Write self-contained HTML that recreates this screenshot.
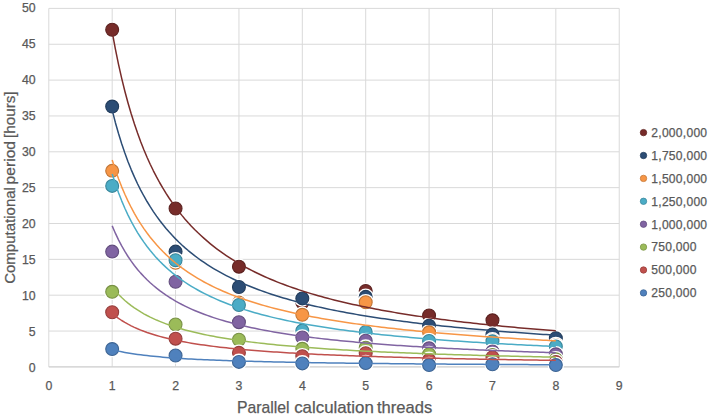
<!DOCTYPE html>
<html><head><meta charset="utf-8"><style>
html,body{margin:0;padding:0;background:#fff;}
body{width:709px;height:415px;overflow:hidden;}
svg{display:block;font-family:"Liberation Sans",sans-serif;}
</style></head><body>
<svg width="709" height="415" viewBox="0 0 709 415">
<rect width="709" height="415" fill="#fff"/>
<g stroke="#D9D9D9" stroke-width="1"><line x1="48.8" y1="366.90" x2="619.22" y2="366.90"/><line x1="48.8" y1="331.05" x2="619.22" y2="331.05"/><line x1="48.8" y1="295.20" x2="619.22" y2="295.20"/><line x1="48.8" y1="259.35" x2="619.22" y2="259.35"/><line x1="48.8" y1="223.50" x2="619.22" y2="223.50"/><line x1="48.8" y1="187.65" x2="619.22" y2="187.65"/><line x1="48.8" y1="151.80" x2="619.22" y2="151.80"/><line x1="48.8" y1="115.95" x2="619.22" y2="115.95"/><line x1="48.8" y1="80.10" x2="619.22" y2="80.10"/><line x1="48.8" y1="44.25" x2="619.22" y2="44.25"/><line x1="48.8" y1="8.40" x2="619.22" y2="8.40"/><line x1="48.80" y1="8.40" x2="48.80" y2="366.9"/><line x1="112.18" y1="8.40" x2="112.18" y2="366.9"/><line x1="175.56" y1="8.40" x2="175.56" y2="366.9"/><line x1="238.94" y1="8.40" x2="238.94" y2="366.9"/><line x1="302.32" y1="8.40" x2="302.32" y2="366.9"/><line x1="365.70" y1="8.40" x2="365.70" y2="366.9"/><line x1="429.08" y1="8.40" x2="429.08" y2="366.9"/><line x1="492.46" y1="8.40" x2="492.46" y2="366.9"/><line x1="555.84" y1="8.40" x2="555.84" y2="366.9"/><line x1="619.22" y1="8.40" x2="619.22" y2="366.9"/></g>
<line x1="48.8" y1="366.9" x2="619.22" y2="366.9" stroke="#D0D0D0" stroke-width="1"/>
<g><circle cx="112.18" cy="29.74" r="8.3" fill="#fff"/><circle cx="112.18" cy="29.74" r="6.45" fill="#772C2A" stroke="#5C2220" stroke-width="1.1"/><circle cx="175.56" cy="208.52" r="8.3" fill="#fff"/><circle cx="175.56" cy="208.52" r="6.45" fill="#772C2A" stroke="#5C2220" stroke-width="1.1"/><circle cx="238.94" cy="266.68" r="8.3" fill="#fff"/><circle cx="238.94" cy="266.68" r="6.45" fill="#772C2A" stroke="#5C2220" stroke-width="1.1"/><circle cx="302.32" cy="302.58" r="8.3" fill="#fff"/><circle cx="302.32" cy="302.58" r="6.45" fill="#772C2A" stroke="#5C2220" stroke-width="1.1"/><circle cx="365.70" cy="290.95" r="8.3" fill="#fff"/><circle cx="365.70" cy="290.95" r="6.45" fill="#772C2A" stroke="#5C2220" stroke-width="1.1"/><circle cx="429.08" cy="315.43" r="8.3" fill="#fff"/><circle cx="429.08" cy="315.43" r="6.45" fill="#772C2A" stroke="#5C2220" stroke-width="1.1"/><circle cx="492.46" cy="320.31" r="8.3" fill="#fff"/><circle cx="492.46" cy="320.31" r="6.45" fill="#772C2A" stroke="#5C2220" stroke-width="1.1"/><circle cx="555.84" cy="337.76" r="8.3" fill="#fff"/><circle cx="555.84" cy="337.76" r="6.45" fill="#772C2A" stroke="#5C2220" stroke-width="1.1"/><circle cx="112.18" cy="106.57" r="8.3" fill="#fff"/><circle cx="112.18" cy="106.57" r="6.45" fill="#2C4D75" stroke="#223C5B" stroke-width="1.1"/><circle cx="175.56" cy="251.60" r="8.3" fill="#fff"/><circle cx="175.56" cy="251.60" r="6.45" fill="#2C4D75" stroke="#223C5B" stroke-width="1.1"/><circle cx="238.94" cy="287.00" r="8.3" fill="#fff"/><circle cx="238.94" cy="287.00" r="6.45" fill="#2C4D75" stroke="#223C5B" stroke-width="1.1"/><circle cx="302.32" cy="298.42" r="8.3" fill="#fff"/><circle cx="302.32" cy="298.42" r="6.45" fill="#2C4D75" stroke="#223C5B" stroke-width="1.1"/><circle cx="365.70" cy="296.84" r="8.3" fill="#fff"/><circle cx="365.70" cy="296.84" r="6.45" fill="#2C4D75" stroke="#223C5B" stroke-width="1.1"/><circle cx="429.08" cy="325.63" r="8.3" fill="#fff"/><circle cx="429.08" cy="325.63" r="6.45" fill="#2C4D75" stroke="#223C5B" stroke-width="1.1"/><circle cx="492.46" cy="334.53" r="8.3" fill="#fff"/><circle cx="492.46" cy="334.53" r="6.45" fill="#2C4D75" stroke="#223C5B" stroke-width="1.1"/><circle cx="555.84" cy="338.19" r="8.3" fill="#fff"/><circle cx="555.84" cy="338.19" r="6.45" fill="#2C4D75" stroke="#223C5B" stroke-width="1.1"/><circle cx="112.18" cy="170.83" r="8.3" fill="#fff"/><circle cx="112.18" cy="170.83" r="6.45" fill="#F79646" stroke="#C07536" stroke-width="1.1"/><circle cx="175.56" cy="262.73" r="8.3" fill="#fff"/><circle cx="175.56" cy="262.73" r="6.45" fill="#F79646" stroke="#C07536" stroke-width="1.1"/><circle cx="238.94" cy="302.58" r="8.3" fill="#fff"/><circle cx="238.94" cy="302.58" r="6.45" fill="#F79646" stroke="#C07536" stroke-width="1.1"/><circle cx="302.32" cy="314.79" r="8.3" fill="#fff"/><circle cx="302.32" cy="314.79" r="6.45" fill="#F79646" stroke="#C07536" stroke-width="1.1"/><circle cx="365.70" cy="302.22" r="8.3" fill="#fff"/><circle cx="365.70" cy="302.22" r="6.45" fill="#F79646" stroke="#C07536" stroke-width="1.1"/><circle cx="429.08" cy="332.31" r="8.3" fill="#fff"/><circle cx="429.08" cy="332.31" r="6.45" fill="#F79646" stroke="#C07536" stroke-width="1.1"/><circle cx="492.46" cy="340.27" r="8.3" fill="#fff"/><circle cx="492.46" cy="340.27" r="6.45" fill="#F79646" stroke="#C07536" stroke-width="1.1"/><circle cx="555.84" cy="344.94" r="8.3" fill="#fff"/><circle cx="555.84" cy="344.94" r="6.45" fill="#F79646" stroke="#C07536" stroke-width="1.1"/><circle cx="112.18" cy="185.91" r="8.3" fill="#fff"/><circle cx="112.18" cy="185.91" r="6.45" fill="#4BACC6" stroke="#3A869A" stroke-width="1.1"/><circle cx="175.56" cy="260.22" r="8.3" fill="#fff"/><circle cx="175.56" cy="260.22" r="6.45" fill="#4BACC6" stroke="#3A869A" stroke-width="1.1"/><circle cx="238.94" cy="305.02" r="8.3" fill="#fff"/><circle cx="238.94" cy="305.02" r="6.45" fill="#4BACC6" stroke="#3A869A" stroke-width="1.1"/><circle cx="302.32" cy="330.58" r="8.3" fill="#fff"/><circle cx="302.32" cy="330.58" r="6.45" fill="#4BACC6" stroke="#3A869A" stroke-width="1.1"/><circle cx="365.70" cy="332.02" r="8.3" fill="#fff"/><circle cx="365.70" cy="332.02" r="6.45" fill="#4BACC6" stroke="#3A869A" stroke-width="1.1"/><circle cx="429.08" cy="340.99" r="8.3" fill="#fff"/><circle cx="429.08" cy="340.99" r="6.45" fill="#4BACC6" stroke="#3A869A" stroke-width="1.1"/><circle cx="492.46" cy="341.28" r="8.3" fill="#fff"/><circle cx="492.46" cy="341.28" r="6.45" fill="#4BACC6" stroke="#3A869A" stroke-width="1.1"/><circle cx="555.84" cy="346.38" r="8.3" fill="#fff"/><circle cx="555.84" cy="346.38" r="6.45" fill="#4BACC6" stroke="#3A869A" stroke-width="1.1"/><circle cx="112.18" cy="251.60" r="8.3" fill="#fff"/><circle cx="112.18" cy="251.60" r="6.45" fill="#8064A2" stroke="#634E7E" stroke-width="1.1"/><circle cx="175.56" cy="281.76" r="8.3" fill="#fff"/><circle cx="175.56" cy="281.76" r="6.45" fill="#8064A2" stroke="#634E7E" stroke-width="1.1"/><circle cx="238.94" cy="322.18" r="8.3" fill="#fff"/><circle cx="238.94" cy="322.18" r="6.45" fill="#8064A2" stroke="#634E7E" stroke-width="1.1"/><circle cx="302.32" cy="337.47" r="8.3" fill="#fff"/><circle cx="302.32" cy="337.47" r="6.45" fill="#8064A2" stroke="#634E7E" stroke-width="1.1"/><circle cx="365.70" cy="340.63" r="8.3" fill="#fff"/><circle cx="365.70" cy="340.63" r="6.45" fill="#8064A2" stroke="#634E7E" stroke-width="1.1"/><circle cx="429.08" cy="348.32" r="8.3" fill="#fff"/><circle cx="429.08" cy="348.32" r="6.45" fill="#8064A2" stroke="#634E7E" stroke-width="1.1"/><circle cx="492.46" cy="351.40" r="8.3" fill="#fff"/><circle cx="492.46" cy="351.40" r="6.45" fill="#8064A2" stroke="#634E7E" stroke-width="1.1"/><circle cx="555.84" cy="354.28" r="8.3" fill="#fff"/><circle cx="555.84" cy="354.28" r="6.45" fill="#8064A2" stroke="#634E7E" stroke-width="1.1"/><circle cx="112.18" cy="291.81" r="8.3" fill="#fff"/><circle cx="112.18" cy="291.81" r="6.45" fill="#9BBB59" stroke="#789145" stroke-width="1.1"/><circle cx="175.56" cy="324.48" r="8.3" fill="#fff"/><circle cx="175.56" cy="324.48" r="6.45" fill="#9BBB59" stroke="#789145" stroke-width="1.1"/><circle cx="238.94" cy="339.77" r="8.3" fill="#fff"/><circle cx="238.94" cy="339.77" r="6.45" fill="#9BBB59" stroke="#789145" stroke-width="1.1"/><circle cx="302.32" cy="348.82" r="8.3" fill="#fff"/><circle cx="302.32" cy="348.82" r="6.45" fill="#9BBB59" stroke="#789145" stroke-width="1.1"/><circle cx="365.70" cy="347.67" r="8.3" fill="#fff"/><circle cx="365.70" cy="347.67" r="6.45" fill="#9BBB59" stroke="#789145" stroke-width="1.1"/><circle cx="429.08" cy="354.13" r="8.3" fill="#fff"/><circle cx="429.08" cy="354.13" r="6.45" fill="#9BBB59" stroke="#789145" stroke-width="1.1"/><circle cx="492.46" cy="354.99" r="8.3" fill="#fff"/><circle cx="492.46" cy="354.99" r="6.45" fill="#9BBB59" stroke="#789145" stroke-width="1.1"/><circle cx="555.84" cy="359.30" r="8.3" fill="#fff"/><circle cx="555.84" cy="359.30" r="6.45" fill="#9BBB59" stroke="#789145" stroke-width="1.1"/><circle cx="112.18" cy="312.27" r="8.3" fill="#fff"/><circle cx="112.18" cy="312.27" r="6.45" fill="#C0504D" stroke="#953E3C" stroke-width="1.1"/><circle cx="175.56" cy="338.70" r="8.3" fill="#fff"/><circle cx="175.56" cy="338.70" r="6.45" fill="#C0504D" stroke="#953E3C" stroke-width="1.1"/><circle cx="238.94" cy="352.84" r="8.3" fill="#fff"/><circle cx="238.94" cy="352.84" r="6.45" fill="#C0504D" stroke="#953E3C" stroke-width="1.1"/><circle cx="302.32" cy="356.21" r="8.3" fill="#fff"/><circle cx="302.32" cy="356.21" r="6.45" fill="#C0504D" stroke="#953E3C" stroke-width="1.1"/><circle cx="365.70" cy="353.27" r="8.3" fill="#fff"/><circle cx="365.70" cy="353.27" r="6.45" fill="#C0504D" stroke="#953E3C" stroke-width="1.1"/><circle cx="429.08" cy="359.88" r="8.3" fill="#fff"/><circle cx="429.08" cy="359.88" r="6.45" fill="#C0504D" stroke="#953E3C" stroke-width="1.1"/><circle cx="492.46" cy="357.22" r="8.3" fill="#fff"/><circle cx="492.46" cy="357.22" r="6.45" fill="#C0504D" stroke="#953E3C" stroke-width="1.1"/><circle cx="555.84" cy="362.03" r="8.3" fill="#fff"/><circle cx="555.84" cy="362.03" r="6.45" fill="#C0504D" stroke="#953E3C" stroke-width="1.1"/><circle cx="112.18" cy="349.03" r="8.3" fill="#fff"/><circle cx="112.18" cy="349.03" r="6.45" fill="#4F81BD" stroke="#3D6493" stroke-width="1.1"/><circle cx="175.56" cy="355.50" r="8.3" fill="#fff"/><circle cx="175.56" cy="355.50" r="6.45" fill="#4F81BD" stroke="#3D6493" stroke-width="1.1"/><circle cx="238.94" cy="361.89" r="8.3" fill="#fff"/><circle cx="238.94" cy="361.89" r="6.45" fill="#4F81BD" stroke="#3D6493" stroke-width="1.1"/><circle cx="302.32" cy="363.39" r="8.3" fill="#fff"/><circle cx="302.32" cy="363.39" r="6.45" fill="#4F81BD" stroke="#3D6493" stroke-width="1.1"/><circle cx="365.70" cy="363.11" r="8.3" fill="#fff"/><circle cx="365.70" cy="363.11" r="6.45" fill="#4F81BD" stroke="#3D6493" stroke-width="1.1"/><circle cx="429.08" cy="365.05" r="8.3" fill="#fff"/><circle cx="429.08" cy="365.05" r="6.45" fill="#4F81BD" stroke="#3D6493" stroke-width="1.1"/><circle cx="492.46" cy="364.26" r="8.3" fill="#fff"/><circle cx="492.46" cy="364.26" r="6.45" fill="#4F81BD" stroke="#3D6493" stroke-width="1.1"/><circle cx="555.84" cy="365.05" r="8.3" fill="#fff"/><circle cx="555.84" cy="365.05" r="6.45" fill="#4F81BD" stroke="#3D6493" stroke-width="1.1"/></g>
<g fill="none" stroke-width="1.5" stroke-linejoin="round"><polyline points="112.18,31.89 115.35,48.92 118.52,64.35 121.69,78.39 124.86,91.22 128.03,102.99 131.19,113.83 134.36,123.84 137.53,133.11 140.70,141.72 143.87,149.74 147.04,157.23 150.21,164.23 153.38,170.79 156.55,176.95 159.72,182.75 162.88,188.22 166.05,193.38 169.22,198.26 172.39,202.88 175.56,207.27 178.73,211.43 181.90,215.39 185.07,219.15 188.24,222.74 191.41,226.17 194.57,229.44 197.74,232.57 200.91,235.56 204.08,238.43 207.25,241.18 210.42,243.82 213.59,246.35 216.76,248.78 219.93,251.12 223.10,253.38 226.26,255.55 229.43,257.64 232.60,259.65 235.77,261.60 238.94,263.48 242.11,265.29 245.28,267.05 248.45,268.74 251.62,270.39 254.79,271.98 257.95,273.52 261.12,275.01 264.29,276.46 267.46,277.86 270.63,279.22 273.80,280.54 276.97,281.83 280.14,283.08 283.31,284.29 286.48,285.47 289.64,286.62 292.81,287.74 295.98,288.82 299.15,289.88 302.32,290.91 305.49,291.92 308.66,292.90 311.83,293.86 315.00,294.79 318.17,295.70 321.33,296.58 324.50,297.45 327.67,298.30 330.84,299.12 334.01,299.93 337.18,300.72 340.35,301.49 343.52,302.25 346.69,302.98 349.86,303.71 353.02,304.41 356.19,305.10 359.36,305.78 362.53,306.44 365.70,307.09 368.87,307.73 372.04,308.35 375.21,308.96 378.38,309.56 381.55,310.14 384.71,310.72 387.88,311.28 391.05,311.83 394.22,312.38 397.39,312.91 400.56,313.43 403.73,313.94 406.90,314.45 410.07,314.94 413.24,315.43 416.40,315.90 419.57,316.37 422.74,316.83 425.91,317.28 429.08,317.73 432.25,318.16 435.42,318.59 438.59,319.01 441.76,319.43 444.93,319.84 448.09,320.24 451.26,320.63 454.43,321.02 457.60,321.40 460.77,321.78 463.94,322.15 467.11,322.51 470.28,322.87 473.45,323.23 476.62,323.57 479.78,323.92 482.95,324.25 486.12,324.59 489.29,324.91 492.46,325.24 495.63,325.55 498.80,325.87 501.97,326.18 505.14,326.48 508.31,326.78 511.47,327.08 514.64,327.37 517.81,327.65 520.98,327.94 524.15,328.22 527.32,328.49 530.49,328.76 533.66,329.03 536.83,329.30 540.00,329.56 543.16,329.82 546.33,330.07 549.50,330.32 552.67,330.57 555.84,330.81" stroke="#772C2A"/><polyline points="112.18,110.16 115.35,122.42 118.52,133.57 121.69,143.75 124.86,153.07 128.03,161.66 131.19,169.58 134.36,176.91 137.53,183.72 140.70,190.06 143.87,195.98 147.04,201.51 150.21,206.70 153.38,211.57 156.55,216.16 159.72,220.48 162.88,224.57 166.05,228.43 169.22,232.09 172.39,235.56 175.56,238.86 178.73,241.99 181.90,244.98 185.07,247.83 188.24,250.55 191.41,253.14 194.57,255.63 197.74,258.01 200.91,260.29 204.08,262.47 207.25,264.57 210.42,266.59 213.59,268.53 216.76,270.39 219.93,272.19 223.10,273.92 226.26,275.59 229.43,277.20 232.60,278.75 235.77,280.25 238.94,281.71 242.11,283.11 245.28,284.47 248.45,285.79 251.62,287.06 254.79,288.30 257.95,289.49 261.12,290.66 264.29,291.78 267.46,292.88 270.63,293.94 273.80,294.98 276.97,295.98 280.14,296.96 283.31,297.91 286.48,298.84 289.64,299.74 292.81,300.62 295.98,301.47 299.15,302.30 302.32,303.12 305.49,303.91 308.66,304.68 311.83,305.44 315.00,306.17 318.17,306.89 321.33,307.60 324.50,308.28 327.67,308.95 330.84,309.61 334.01,310.25 337.18,310.88 340.35,311.49 343.52,312.09 346.69,312.68 349.86,313.25 353.02,313.82 356.19,314.37 359.36,314.91 362.53,315.44 365.70,315.96 368.87,316.46 372.04,316.96 375.21,317.45 378.38,317.93 381.55,318.40 384.71,318.86 387.88,319.32 391.05,319.76 394.22,320.20 397.39,320.62 400.56,321.04 403.73,321.46 406.90,321.86 410.07,322.26 413.24,322.65 416.40,323.04 419.57,323.42 422.74,323.79 425.91,324.15 429.08,324.51 432.25,324.87 435.42,325.21 438.59,325.56 441.76,325.89 444.93,326.22 448.09,326.55 451.26,326.87 454.43,327.19 457.60,327.50 460.77,327.80 463.94,328.10 467.11,328.40 470.28,328.69 473.45,328.98 476.62,329.26 479.78,329.54 482.95,329.82 486.12,330.09 489.29,330.36 492.46,330.62 495.63,330.88 498.80,331.14 501.97,331.39 505.14,331.64 508.31,331.89 511.47,332.13 514.64,332.37 517.81,332.60 520.98,332.84 524.15,333.07 527.32,333.29 530.49,333.52 533.66,333.74 536.83,333.95 540.00,334.17 543.16,334.38 546.33,334.59 549.50,334.80 552.67,335.00 555.84,335.20" stroke="#2C4D75"/><polyline points="112.18,160.06 115.35,169.83 118.52,178.73 121.69,186.85 124.86,194.30 128.03,201.15 131.19,207.48 134.36,213.35 137.53,218.79 140.70,223.86 143.87,228.60 147.04,233.03 150.21,237.19 153.38,241.09 156.55,244.77 159.72,248.23 162.88,251.51 166.05,254.61 169.22,257.55 172.39,260.33 175.56,262.98 178.73,265.50 181.90,267.90 185.07,270.19 188.24,272.37 191.41,274.46 194.57,276.46 197.74,278.37 200.91,280.21 204.08,281.97 207.25,283.66 210.42,285.28 213.59,286.84 216.76,288.34 219.93,289.79 223.10,291.19 226.26,292.53 229.43,293.83 232.60,295.08 235.77,296.30 238.94,297.47 242.11,298.60 245.28,299.70 248.45,300.76 251.62,301.79 254.79,302.78 257.95,303.75 261.12,304.69 264.29,305.60 267.46,306.49 270.63,307.35 273.80,308.18 276.97,308.99 280.14,309.78 283.31,310.55 286.48,311.30 289.64,312.03 292.81,312.74 295.98,313.43 299.15,314.11 302.32,314.76 305.49,315.41 308.66,316.03 311.83,316.64 315.00,317.24 318.17,317.82 321.33,318.39 324.50,318.95 327.67,319.49 330.84,320.02 334.01,320.54 337.18,321.05 340.35,321.55 343.52,322.03 346.69,322.51 349.86,322.98 353.02,323.43 356.19,323.88 359.36,324.32 362.53,324.75 365.70,325.17 368.87,325.58 372.04,325.98 375.21,326.38 378.38,326.77 381.55,327.15 384.71,327.53 387.88,327.89 391.05,328.25 394.22,328.61 397.39,328.96 400.56,329.30 403.73,329.63 406.90,329.96 410.07,330.29 413.24,330.60 416.40,330.92 419.57,331.22 422.74,331.53 425.91,331.82 429.08,332.11 432.25,332.40 435.42,332.68 438.59,332.96 441.76,333.24 444.93,333.51 448.09,333.77 451.26,334.03 454.43,334.29 457.60,334.54 460.77,334.79 463.94,335.04 467.11,335.28 470.28,335.51 473.45,335.75 476.62,335.98 479.78,336.21 482.95,336.43 486.12,336.65 489.29,336.87 492.46,337.09 495.63,337.30 498.80,337.51 501.97,337.71 505.14,337.91 508.31,338.11 511.47,338.31 514.64,338.51 517.81,338.70 520.98,338.89 524.15,339.08 527.32,339.26 530.49,339.44 533.66,339.62 536.83,339.80 540.00,339.97 543.16,340.15 546.33,340.32 549.50,340.49 552.67,340.65 555.84,340.82" stroke="#F79646"/><polyline points="112.18,173.91 115.35,183.78 118.52,192.72 121.69,200.85 124.86,208.29 128.03,215.10 131.19,221.38 134.36,227.17 137.53,232.53 140.70,237.51 143.87,242.15 147.04,246.48 150.21,250.53 153.38,254.32 156.55,257.88 159.72,261.23 162.88,264.39 166.05,267.37 169.22,270.19 172.39,272.86 175.56,275.39 178.73,277.79 181.90,280.08 185.07,282.25 188.24,284.32 191.41,286.30 194.57,288.19 197.74,289.99 200.91,291.72 204.08,293.37 207.25,294.95 210.42,296.47 213.59,297.93 216.76,299.34 219.93,300.69 223.10,301.98 226.26,303.23 229.43,304.44 232.60,305.60 235.77,306.72 238.94,307.80 242.11,308.85 245.28,309.86 248.45,310.83 251.62,311.78 254.79,312.69 257.95,313.58 261.12,314.44 264.29,315.27 267.46,316.08 270.63,316.86 273.80,317.63 276.97,318.37 280.14,319.08 283.31,319.78 286.48,320.46 289.64,321.12 292.81,321.76 295.98,322.39 299.15,323.00 302.32,323.59 305.49,324.17 308.66,324.73 311.83,325.28 315.00,325.82 318.17,326.34 321.33,326.85 324.50,327.35 327.67,327.83 330.84,328.31 334.01,328.77 337.18,329.23 340.35,329.67 343.52,330.10 346.69,330.53 349.86,330.94 353.02,331.35 356.19,331.74 359.36,332.13 362.53,332.51 365.70,332.88 368.87,333.25 372.04,333.61 375.21,333.96 378.38,334.30 381.55,334.64 384.71,334.97 387.88,335.29 391.05,335.61 394.22,335.92 397.39,336.22 400.56,336.52 403.73,336.82 406.90,337.10 410.07,337.39 413.24,337.67 416.40,337.94 419.57,338.21 422.74,338.47 425.91,338.73 429.08,338.99 432.25,339.24 435.42,339.48 438.59,339.72 441.76,339.96 444.93,340.20 448.09,340.43 451.26,340.65 454.43,340.88 457.60,341.09 460.77,341.31 463.94,341.52 467.11,341.73 470.28,341.94 473.45,342.14 476.62,342.34 479.78,342.53 482.95,342.73 486.12,342.92 489.29,343.11 492.46,343.29 495.63,343.47 498.80,343.65 501.97,343.83 505.14,344.00 508.31,344.18 511.47,344.34 514.64,344.51 517.81,344.68 520.98,344.84 524.15,345.00 527.32,345.16 530.49,345.31 533.66,345.47 536.83,345.62 540.00,345.77 543.16,345.91 546.33,346.06 549.50,346.20 552.67,346.35 555.84,346.49" stroke="#4BACC6"/><polyline points="112.18,225.83 115.35,233.19 118.52,239.85 121.69,245.90 124.86,251.43 128.03,256.50 131.19,261.16 134.36,265.45 137.53,269.43 140.70,273.12 143.87,276.55 147.04,279.75 150.21,282.74 153.38,285.54 156.55,288.17 159.72,290.64 162.88,292.97 166.05,295.16 169.22,297.24 172.39,299.20 175.56,301.06 178.73,302.83 181.90,304.51 185.07,306.10 188.24,307.62 191.41,309.07 194.57,310.46 197.74,311.78 200.91,313.04 204.08,314.25 207.25,315.41 210.42,316.52 213.59,317.59 216.76,318.62 219.93,319.60 223.10,320.55 226.26,321.46 229.43,322.34 232.60,323.19 235.77,324.00 238.94,324.79 242.11,325.55 245.28,326.29 248.45,327.00 251.62,327.69 254.79,328.35 257.95,329.00 261.12,329.62 264.29,330.23 267.46,330.82 270.63,331.38 273.80,331.94 276.97,332.47 280.14,332.99 283.31,333.50 286.48,333.99 289.64,334.47 292.81,334.94 295.98,335.39 299.15,335.83 302.32,336.26 305.49,336.68 308.66,337.09 311.83,337.48 315.00,337.87 318.17,338.25 321.33,338.62 324.50,338.98 327.67,339.33 330.84,339.67 334.01,340.01 337.18,340.33 340.35,340.65 343.52,340.97 346.69,341.27 349.86,341.57 353.02,341.86 356.19,342.15 359.36,342.43 362.53,342.70 365.70,342.97 368.87,343.24 372.04,343.49 375.21,343.75 378.38,343.99 381.55,344.23 384.71,344.47 387.88,344.70 391.05,344.93 394.22,345.16 397.39,345.38 400.56,345.59 403.73,345.80 406.90,346.01 410.07,346.21 413.24,346.41 416.40,346.61 419.57,346.80 422.74,346.99 425.91,347.18 429.08,347.36 432.25,347.54 435.42,347.72 438.59,347.89 441.76,348.06 444.93,348.23 448.09,348.39 451.26,348.56 454.43,348.72 457.60,348.87 460.77,349.03 463.94,349.18 467.11,349.33 470.28,349.48 473.45,349.62 476.62,349.76 479.78,349.90 482.95,350.04 486.12,350.18 489.29,350.31 492.46,350.45 495.63,350.58 498.80,350.70 501.97,350.83 505.14,350.95 508.31,351.08 511.47,351.20 514.64,351.32 517.81,351.44 520.98,351.55 524.15,351.67 527.32,351.78 530.49,351.89 533.66,352.00 536.83,352.11 540.00,352.21 543.16,352.32 546.33,352.42 549.50,352.53 552.67,352.63 555.84,352.73" stroke="#8064A2"/><polyline points="112.18,287.14 115.35,290.95 118.52,294.41 121.69,297.57 124.86,300.46 128.03,303.13 131.19,305.59 134.36,307.86 137.53,309.98 140.70,311.95 143.87,313.79 147.04,315.51 150.21,317.12 153.38,318.63 156.55,320.06 159.72,321.40 162.88,322.67 166.05,323.87 169.22,325.01 172.39,326.09 175.56,327.12 178.73,328.09 181.90,329.02 185.07,329.91 188.24,330.75 191.41,331.56 194.57,332.33 197.74,333.07 200.91,333.78 204.08,334.47 207.25,335.12 210.42,335.75 213.59,336.35 216.76,336.93 219.93,337.49 223.10,338.03 226.26,338.55 229.43,339.05 232.60,339.54 235.77,340.00 238.94,340.46 242.11,340.89 245.28,341.32 248.45,341.73 251.62,342.12 254.79,342.51 257.95,342.88 261.12,343.24 264.29,343.60 267.46,343.94 270.63,344.27 273.80,344.59 276.97,344.90 280.14,345.21 283.31,345.51 286.48,345.79 289.64,346.08 292.81,346.35 295.98,346.62 299.15,346.88 302.32,347.13 305.49,347.38 308.66,347.62 311.83,347.85 315.00,348.08 318.17,348.31 321.33,348.53 324.50,348.74 327.67,348.95 330.84,349.16 334.01,349.36 337.18,349.55 340.35,349.74 343.52,349.93 346.69,350.11 349.86,350.29 353.02,350.47 356.19,350.64 359.36,350.81 362.53,350.98 365.70,351.14 368.87,351.30 372.04,351.45 375.21,351.60 378.38,351.75 381.55,351.90 384.71,352.04 387.88,352.19 391.05,352.32 394.22,352.46 397.39,352.59 400.56,352.73 403.73,352.85 406.90,352.98 410.07,353.11 413.24,353.23 416.40,353.35 419.57,353.47 422.74,353.58 425.91,353.70 429.08,353.81 432.25,353.92 435.42,354.03 438.59,354.14 441.76,354.24 444.93,354.34 448.09,354.45 451.26,354.55 454.43,354.64 457.60,354.74 460.77,354.84 463.94,354.93 467.11,355.02 470.28,355.12 473.45,355.21 476.62,355.29 479.78,355.38 482.95,355.47 486.12,355.55 489.29,355.64 492.46,355.72 495.63,355.80 498.80,355.88 501.97,355.96 505.14,356.04 508.31,356.11 511.47,356.19 514.64,356.26 517.81,356.34 520.98,356.41 524.15,356.48 527.32,356.55 530.49,356.62 533.66,356.69 536.83,356.76 540.00,356.83 543.16,356.89 546.33,356.96 549.50,357.02 552.67,357.09 555.84,357.15" stroke="#9BBB59"/><polyline points="112.18,313.57 115.35,316.09 118.52,318.39 121.69,320.50 124.86,322.42 128.03,324.20 131.19,325.83 134.36,327.35 137.53,328.76 140.70,330.07 143.87,331.30 147.04,332.45 150.21,333.52 153.38,334.53 156.55,335.48 159.72,336.38 162.88,337.23 166.05,338.03 169.22,338.79 172.39,339.51 175.56,340.20 178.73,340.85 181.90,341.47 185.07,342.06 188.24,342.63 191.41,343.17 194.57,343.69 197.74,344.18 200.91,344.66 204.08,345.11 207.25,345.55 210.42,345.97 213.59,346.37 216.76,346.76 219.93,347.14 223.10,347.50 226.26,347.85 229.43,348.18 232.60,348.51 235.77,348.82 238.94,349.12 242.11,349.42 245.28,349.70 248.45,349.98 251.62,350.24 254.79,350.50 257.95,350.75 261.12,350.99 264.29,351.23 267.46,351.46 270.63,351.68 273.80,351.90 276.97,352.11 280.14,352.31 283.31,352.51 286.48,352.71 289.64,352.90 292.81,353.08 295.98,353.26 299.15,353.43 302.32,353.60 305.49,353.77 308.66,353.93 311.83,354.09 315.00,354.25 318.17,354.40 321.33,354.54 324.50,354.69 327.67,354.83 330.84,354.97 334.01,355.10 337.18,355.23 340.35,355.36 343.52,355.49 346.69,355.61 349.86,355.73 353.02,355.85 356.19,355.97 359.36,356.08 362.53,356.19 365.70,356.30 368.87,356.41 372.04,356.51 375.21,356.61 378.38,356.71 381.55,356.81 384.71,356.91 387.88,357.01 391.05,357.10 394.22,357.19 397.39,357.28 400.56,357.37 403.73,357.46 406.90,357.54 410.07,357.63 413.24,357.71 416.40,357.79 419.57,357.87 422.74,357.95 425.91,358.02 429.08,358.10 432.25,358.17 435.42,358.25 438.59,358.32 441.76,358.39 444.93,358.46 448.09,358.53 451.26,358.60 454.43,358.66 457.60,358.73 460.77,358.79 463.94,358.86 467.11,358.92 470.28,358.98 473.45,359.04 476.62,359.10 479.78,359.16 482.95,359.22 486.12,359.28 489.29,359.33 492.46,359.39 495.63,359.44 498.80,359.50 501.97,359.55 505.14,359.60 508.31,359.65 511.47,359.71 514.64,359.76 517.81,359.81 520.98,359.85 524.15,359.90 527.32,359.95 530.49,360.00 533.66,360.04 536.83,360.09 540.00,360.14 543.16,360.18 546.33,360.23 549.50,360.27 552.67,360.31 555.84,360.35" stroke="#C0504D"/><polyline points="112.18,349.61 115.35,350.41 118.52,351.13 121.69,351.80 124.86,352.41 128.03,352.97 131.19,353.49 134.36,353.97 137.53,354.42 140.70,354.84 143.87,355.23 147.04,355.60 150.21,355.94 153.38,356.27 156.55,356.57 159.72,356.86 162.88,357.14 166.05,357.39 169.22,357.64 172.39,357.87 175.56,358.09 178.73,358.31 181.90,358.51 185.07,358.70 188.24,358.88 191.41,359.06 194.57,359.23 197.74,359.39 200.91,359.54 204.08,359.69 207.25,359.83 210.42,359.97 213.59,360.10 216.76,360.23 219.93,360.35 223.10,360.47 226.26,360.59 229.43,360.70 232.60,360.80 235.77,360.91 238.94,361.01 242.11,361.10 245.28,361.20 248.45,361.29 251.62,361.37 254.79,361.46 257.95,361.54 261.12,361.62 264.29,361.70 267.46,361.78 270.63,361.85 273.80,361.92 276.97,361.99 280.14,362.06 283.31,362.12 286.48,362.19 289.64,362.25 292.81,362.31 295.98,362.37 299.15,362.43 302.32,362.49 305.49,362.54 308.66,362.60 311.83,362.65 315.00,362.70 318.17,362.75 321.33,362.80 324.50,362.85 327.67,362.89 330.84,362.94 334.01,362.99 337.18,363.03 340.35,363.07 343.52,363.11 346.69,363.16 349.86,363.20 353.02,363.24 356.19,363.28 359.36,363.31 362.53,363.35 365.70,363.39 368.87,363.42 372.04,363.46 375.21,363.49 378.38,363.53 381.55,363.56 384.71,363.59 387.88,363.62 391.05,363.66 394.22,363.69 397.39,363.72 400.56,363.75 403.73,363.78 406.90,363.80 410.07,363.83 413.24,363.86 416.40,363.89 419.57,363.92 422.74,363.94 425.91,363.97 429.08,363.99 432.25,364.02 435.42,364.04 438.59,364.07 441.76,364.09 444.93,364.12 448.09,364.14 451.26,364.16 454.43,364.18 457.60,364.21 460.77,364.23 463.94,364.25 467.11,364.27 470.28,364.29 473.45,364.31 476.62,364.33 479.78,364.35 482.95,364.37 486.12,364.39 489.29,364.41 492.46,364.43 495.63,364.45 498.80,364.47 501.97,364.49 505.14,364.50 508.31,364.52 511.47,364.54 514.64,364.56 517.81,364.57 520.98,364.59 524.15,364.61 527.32,364.62 530.49,364.64 533.66,364.65 536.83,364.67 540.00,364.69 543.16,364.70 546.33,364.72 549.50,364.73 552.67,364.75 555.84,364.76" stroke="#4F81BD"/></g>
<g fill="#595959" stroke="#595959" stroke-width="0.25" font-size="12.3px"><text x="35.6" y="371.50" text-anchor="end">0</text><text x="35.6" y="335.59" text-anchor="end">5</text><text x="35.6" y="299.68" text-anchor="end">10</text><text x="35.6" y="263.77" text-anchor="end">15</text><text x="35.6" y="227.86" text-anchor="end">20</text><text x="35.6" y="191.95" text-anchor="end">25</text><text x="35.6" y="156.04" text-anchor="end">30</text><text x="35.6" y="120.13" text-anchor="end">35</text><text x="35.6" y="84.22" text-anchor="end">40</text><text x="35.6" y="48.31" text-anchor="end">45</text><text x="35.6" y="12.40" text-anchor="end">50</text><text x="48.80" y="389.8" text-anchor="middle">0</text><text x="112.18" y="389.8" text-anchor="middle">1</text><text x="175.56" y="389.8" text-anchor="middle">2</text><text x="238.94" y="389.8" text-anchor="middle">3</text><text x="302.32" y="389.8" text-anchor="middle">4</text><text x="365.70" y="389.8" text-anchor="middle">5</text><text x="429.08" y="389.8" text-anchor="middle">6</text><text x="492.46" y="389.8" text-anchor="middle">7</text><text x="555.84" y="389.8" text-anchor="middle">8</text><text x="619.22" y="389.8" text-anchor="middle">9</text></g>
<g fill="#595959" stroke="#595959" stroke-width="0.25" font-size="12.1px" letter-spacing="0.25"><circle cx="643.5" cy="132.60" r="3.2" fill="#772C2A" stroke="#5F2321" stroke-width="0.8"/><text x="651.3" y="136.90">2,000,000</text><circle cx="643.5" cy="155.50" r="3.2" fill="#2C4D75" stroke="#233D5D" stroke-width="0.8"/><text x="651.3" y="159.80">1,750,000</text><circle cx="643.5" cy="178.40" r="3.2" fill="#F79646" stroke="#C57838" stroke-width="0.8"/><text x="651.3" y="182.70">1,500,000</text><circle cx="643.5" cy="201.30" r="3.2" fill="#4BACC6" stroke="#3C899E" stroke-width="0.8"/><text x="651.3" y="205.60">1,250,000</text><circle cx="643.5" cy="224.20" r="3.2" fill="#8064A2" stroke="#665081" stroke-width="0.8"/><text x="651.3" y="228.50">1,000,000</text><circle cx="643.5" cy="247.10" r="3.2" fill="#9BBB59" stroke="#7C9547" stroke-width="0.8"/><text x="651.3" y="251.40">750,000</text><circle cx="643.5" cy="270.00" r="3.2" fill="#C0504D" stroke="#99403D" stroke-width="0.8"/><text x="651.3" y="274.30">500,000</text><circle cx="643.5" cy="292.90" r="3.2" fill="#4F81BD" stroke="#3F6797" stroke-width="0.8"/><text x="651.3" y="297.20">250,000</text></g>
<g fill="#595959" stroke="#595959" stroke-width="0.25" font-size="16.2px"><text x="236.9" y="413.4" textLength="52.5" lengthAdjust="spacingAndGlyphs">Parallel</text><text x="294.2" y="413.4" textLength="79.6" lengthAdjust="spacingAndGlyphs">calculation</text><text x="377.0" y="413.4" textLength="55.2" lengthAdjust="spacingAndGlyphs">threads</text></g>
<g transform="translate(14.6,0) rotate(-90)" fill="#595959" stroke="#595959" stroke-width="0.25" font-size="15.05px"><text x="-283.8" textLength="96.7" lengthAdjust="spacingAndGlyphs">Computational</text><text x="-184.4" textLength="43.4" lengthAdjust="spacingAndGlyphs">period</text><text x="-138.0" textLength="46.6" lengthAdjust="spacingAndGlyphs">[hours]</text></g>
</svg>
</body></html>
